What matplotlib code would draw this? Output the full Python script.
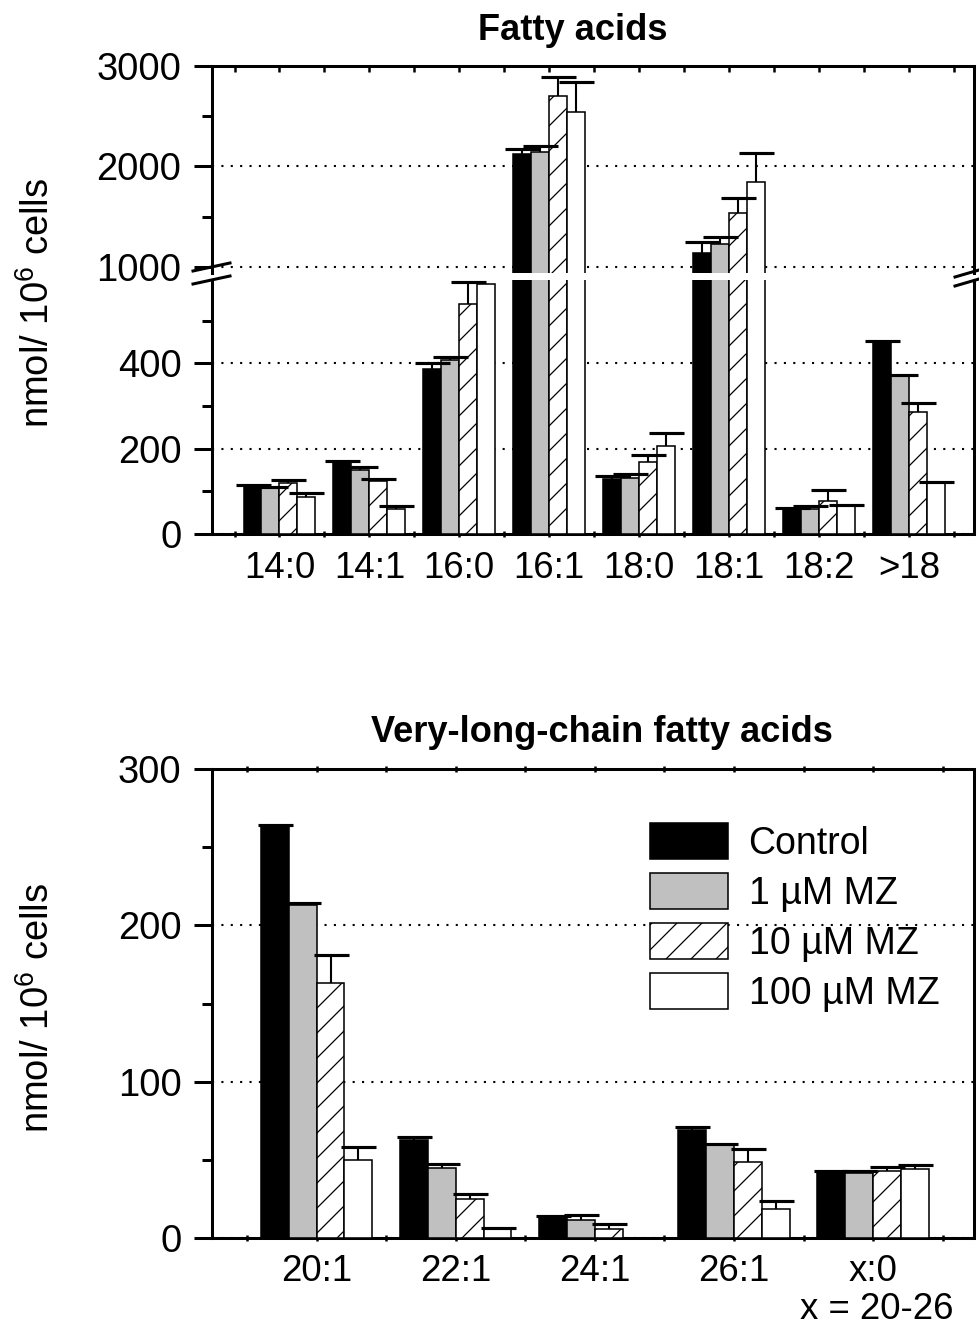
import numpy as np
import matplotlib
matplotlib.use('Agg')
import matplotlib.pyplot as plt
from matplotlib.patches import Patch
from matplotlib.lines import Line2D

plt.rcParams['font.family'] = ['Liberation Sans', 'DejaVu Sans']
plt.rcParams['mathtext.default'] = 'regular'
plt.rcParams['hatch.linewidth'] = 0.6

# Fettsaeuren (nmol / 10^6 Zellen)
fa_labels = ['14:0', '14:1', '16:0', '16:1', '18:0', '18:1', '18:2', '>18']
fa_control = [113, 169, 387, 2127, 129, 1142, 60, 449]
fa_control_err = [2, 3, 13, 47, 8, 110, 2, 2]
fa_mz1 = [108, 149, 407, 2141, 131, 1226, 58, 370]
fa_mz1_err = [3, 8, 8, 59, 10, 70, 8, 3]
fa_mz10 = [119, 123, 538, 2705, 169, 1540, 77, 285]
fa_mz10_err = [8, 5, 53, 189, 17, 143, 26, 22]
fa_mz100 = [86, 58, 585, 2539, 206, 1843, 66, 121]
fa_mz100_err = [11, 7, np.nan, 299, 30, 288, 3, 1]

# sehr langkettige Fettsaeuren
vl_labels = ['20:1', '22:1', '24:1', '26:1', 'x:0']
vl_control = [263, 62.5, 13.6, 69.2, 42.1]
vl_control_err = [1.6, 2.2, 0.5, 1.7, 0.3]
vl_mz1 = [213.4, 44.9, 11.5, 59.8, 41.6]
vl_mz1_err = [0.8, 2.6, 3.0, 0.4, 1.4]
vl_mz10 = [163.2, 24.9, 5.3, 48.7, 42.8]
vl_mz10_err = [18.0, 3.2, 3.2, 8.1, 2.8]
vl_mz100 = [49.8, 5.7, 0, 18.3, 44.0]
vl_mz100_err = [8.1, 0.3, np.nan, 5.3, 2.8]

series_names = ['Control', '1 µM MZ', '10 µM MZ', '100 µM MZ']
styles = [dict(facecolor='black', edgecolor='black'),
          dict(facecolor='#c0c0c0', edgecolor='black'),
          dict(facecolor='white', edgecolor='black', hatch='//'),
          dict(facecolor='white', edgecolor='black')]

W, H, DPI = 979, 1325, 150
fig = plt.figure(figsize=(W / DPI, H / DPI), dpi=DPI)


def fx(px):
    return px / W


def fy(py):
    return 1 - py / H


def box(x0, y0, x1, y1):
    return [fx(x0), fy(y1), fx(x1) - fx(x0), fy(y0) - fy(y1)]


ax_hi = fig.add_axes(box(211.6, 66, 974, 273))
ax_lo = fig.add_axes(box(211.6, 280, 974, 534))
ax_vl = fig.add_axes(box(211.6, 769.3, 974, 1237.7))


def draw_bars(ax, groups, errs):
    x = np.arange(1, len(groups[0]) + 1)
    for i, (vals, err, st) in enumerate(zip(groups, errs, styles)):
        pos = x - 0.3 + 0.2 * i
        vals = np.asarray(vals, float)
        err = np.asarray(err, float)
        ax.bar(pos, vals, width=0.2, linewidth=0.75, zorder=3, **st)
        # nur nach oben gerichtete Fehlerbalken
        ok = ~np.isnan(err)
        top = vals[ok] + err[ok]
        ax.vlines(pos[ok], vals[ok], top, color='black', lw=1, zorder=4)
        ax.plot(pos[ok], top, linestyle='none', marker='_', markersize=16.8,
                markeredgewidth=1.5, color='black', zorder=4)
    ax.set_xlim(0.245, len(x) + 0.725)
    ax.set_xticks(x)
    ax.set_xticks(np.arange(0.5, len(x) + 0.6, 1.0), minor=True)


def style_axis(ax):
    for sp in ax.spines.values():
        sp.set_linewidth(1.45)
    ax.set_axisbelow(True)
    ax.yaxis.grid(True, which='major', linestyle=(0, (1, 3.5)), color='black', lw=1)
    ax.tick_params(axis='y', which='major', direction='out', length=8.6, width=1.45,
                   pad=5.9, labelsize=18.3)
    ax.tick_params(axis='y', which='minor', direction='out', length=4.9, width=1.45)
    ax.tick_params(axis='x', which='both', direction='inout', length=3, width=1.2,
                   pad=6.5, labelsize=17.6)


fa_vals = [fa_control, fa_mz1, fa_mz10, fa_mz100]
fa_errs = [fa_control_err, fa_mz1_err, fa_mz10_err, fa_mz100_err]
for ax in (ax_hi, ax_lo):
    draw_bars(ax, fa_vals, fa_errs)
    style_axis(ax)

# oberer Teil der gebrochenen Achse
ax_hi.set_ylim(940, 3000)
ax_hi.set_yticks([1000, 2000, 3000])
ax_hi.set_yticks([1500, 2500], minor=True)
ax_hi.spines['bottom'].set_visible(False)
ax_hi.tick_params(axis='x', which='both', bottom=False, labelbottom=False, top=True,
                  direction='in')

# unterer Teil
ax_lo.set_ylim(0, 595)
ax_lo.set_yticks([0, 200, 400])
ax_lo.set_yticks([100, 300, 500], minor=True)
ax_lo.spines['top'].set_visible(False)
ax_lo.set_xticklabels(fa_labels)

# Bruchzeichen an beiden Seiten
for (xa, ya, xb, yb) in [(193, 271, 230, 263), (193, 284, 230, 276),
                         (955, 277, 979, 270), (955, 286, 979, 279)]:
    fig.add_artist(Line2D([fx(xa), fx(xb)], [fy(ya), fy(yb)],
                          transform=fig.transFigure, color='black', lw=1.45))

vl_vals = [vl_control, vl_mz1, vl_mz10, vl_mz100]
vl_errs = [vl_control_err, vl_mz1_err, vl_mz10_err, vl_mz100_err]
draw_bars(ax_vl, vl_vals, vl_errs)
style_axis(ax_vl)
ax_vl.set_ylim(0, 300)
ax_vl.set_yticks([0, 100, 200, 300])
ax_vl.set_yticks([50, 150, 250], minor=True)
ax_vl.set_xticklabels(vl_labels)
ax_vl.tick_params(axis='x', which='both', top=True)
ax_vl.annotate('x = 20-26', xy=(5, 0), xycoords=('data', 'axes fraction'),
               xytext=(1.5, -34.6), textcoords='offset points',
               ha='center', va='center', fontsize=17.6)

handles = [Patch(linewidth=0.75, **st) for st in styles]
ax_vl.legend(handles, series_names, loc='upper left',
             bbox_to_anchor=(fx(650), fy(823)), bbox_transform=fig.transFigure,
             frameon=False, fontsize=18, handlelength=2.08, handleheight=1.1,
             handletextpad=0.55, labelspacing=0.3, borderpad=0, borderaxespad=0)

fig.text(fx(573), fy(31), 'Fatty acids', ha='center', va='center',
         fontsize=17.4, fontweight='bold')
fig.text(fx(602), fy(732), 'Very-long-chain fatty acids', ha='center', va='center',
         fontsize=17.4, fontweight='bold')
fig.text(fx(38), fy(303), 'nmol/ 10$^6$ cells', rotation=90, ha='center',
         va='center', fontsize=18.3)
fig.text(fx(38), fy(1008), 'nmol/ 10$^6$ cells', rotation=90, ha='center',
         va='center', fontsize=18.3)

fig.savefig('out.png', dpi=DPI)
